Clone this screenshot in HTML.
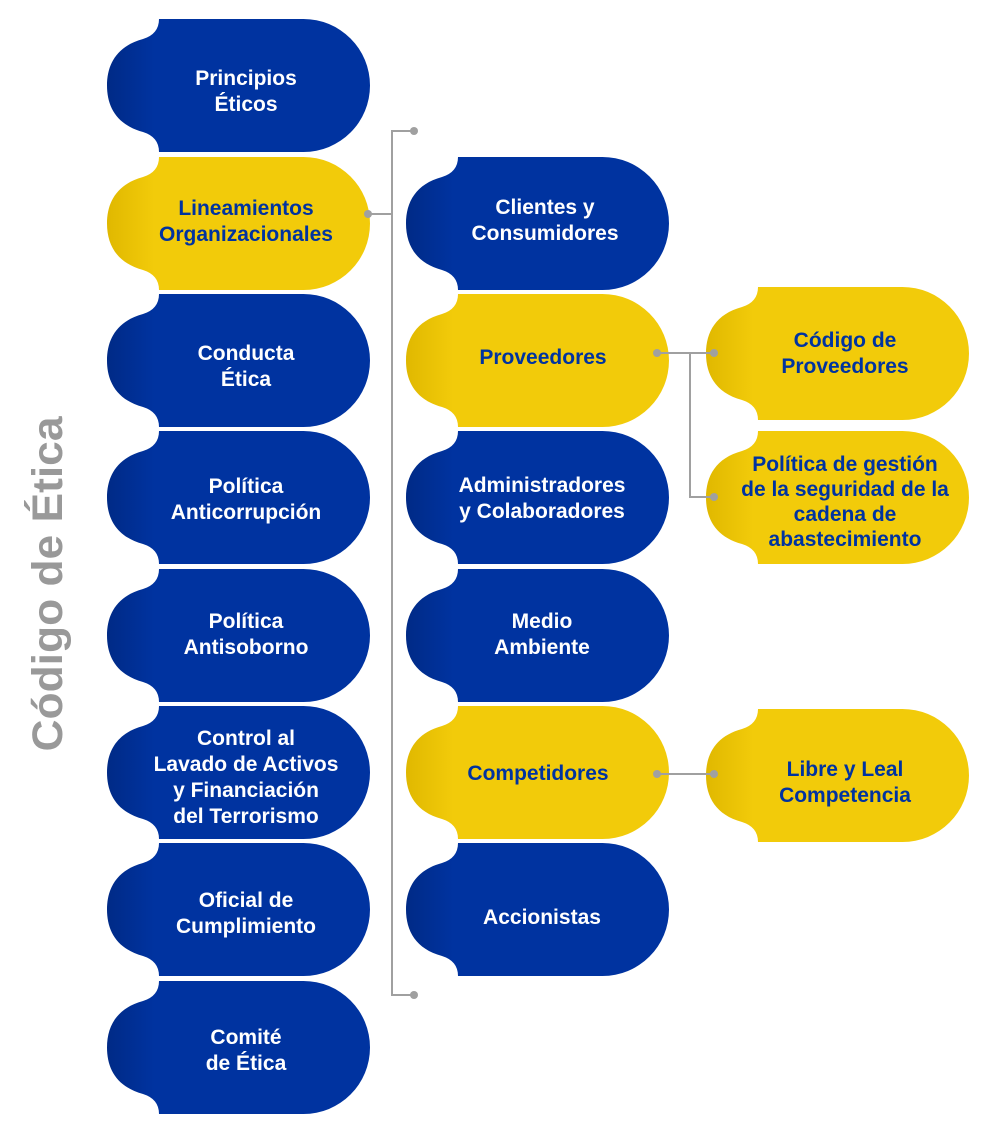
<!DOCTYPE html>
<html><head><meta charset="utf-8"><style>html,body{margin:0;padding:0;background:#fff}svg{display:block}</style></head>
<body>
<svg width="1000" height="1126" viewBox="0 0 1000 1126" xmlns="http://www.w3.org/2000/svg">
<defs>
<linearGradient id="gb" x1="0" x2="1" y1="0" y2="0"><stop offset="0" stop-color="#002a86"/><stop offset="0.18" stop-color="#0033a0"/><stop offset="1" stop-color="#0033a0"/></linearGradient>
<linearGradient id="gy" x1="0" x2="1" y1="0" y2="0"><stop offset="0" stop-color="#e0b800"/><stop offset="0.18" stop-color="#f2cb0a"/><stop offset="1" stop-color="#f2cb0a"/></linearGradient>
<path id="s" d="M52,0 H196.5 A66.5,66.5 0 0 1 196.5,133 H52 Q52,118 36,113 C10,106 0,88 0,66.5 C0,45 10,27 36,20 Q52,15 52,0 Z"/>
</defs>
<g>
<use href="#s" x="107" y="19" fill="url(#gb)"/>
<use href="#s" x="107" y="157" fill="url(#gy)"/>
<use href="#s" x="107" y="294" fill="url(#gb)"/>
<use href="#s" x="107" y="431" fill="url(#gb)"/>
<use href="#s" x="107" y="569" fill="url(#gb)"/>
<use href="#s" x="107" y="706" fill="url(#gb)"/>
<use href="#s" x="107" y="843" fill="url(#gb)"/>
<use href="#s" x="107" y="981" fill="url(#gb)"/>
<use href="#s" x="406" y="157" fill="url(#gb)"/>
<use href="#s" x="406" y="294" fill="url(#gy)"/>
<use href="#s" x="406" y="431" fill="url(#gb)"/>
<use href="#s" x="406" y="569" fill="url(#gb)"/>
<use href="#s" x="406" y="706" fill="url(#gy)"/>
<use href="#s" x="406" y="843" fill="url(#gb)"/>
<use href="#s" x="706" y="287" fill="url(#gy)"/>
<use href="#s" x="706" y="431" fill="url(#gy)"/>
<use href="#s" x="706" y="709" fill="url(#gy)"/>
</g>
<g stroke="#a0a0a0" stroke-width="2" fill="none">
<path d="M414,131 H392 V995 H414"/>
<path d="M368,214 H392"/>
<path d="M657,353 H714 M690,353 V497 H714"/>
<path d="M657,774 H714"/>
</g>
<g fill="#a0a0a0">
<circle cx="414" cy="131" r="4"/><circle cx="414" cy="995" r="4"/><circle cx="368" cy="214" r="4"/>
<circle cx="657" cy="353" r="4"/><circle cx="714" cy="353" r="4"/><circle cx="714" cy="497" r="4"/>
<circle cx="657" cy="774" r="4"/><circle cx="714" cy="774" r="4"/>
</g>
<text transform="translate(62,584) rotate(-90)" text-anchor="middle" font-family="Liberation Sans, sans-serif" font-weight="bold" font-size="43" fill="#999" textLength="335" lengthAdjust="spacingAndGlyphs">Código de Ética</text>
<g font-family="Liberation Sans, sans-serif" font-weight="bold" font-size="21" text-anchor="middle" fill="#fff">
<text x="246" y="85">Principios</text><text x="246" y="111">Éticos</text>
<text x="246" y="360">Conducta</text><text x="246" y="386">Ética</text>
<text x="246" y="493">Política</text><text x="246" y="519">Anticorrupción</text>
<text x="246" y="628">Política</text><text x="246" y="654">Antisoborno</text>
<text x="246" y="745">Control al</text><text x="246" y="771">Lavado de Activos</text><text x="246" y="797">y Financiación</text><text x="246" y="823">del Terrorismo</text>
<text x="246" y="907">Oficial de</text><text x="246" y="933">Cumplimiento</text>
<text x="246" y="1044">Comité</text><text x="246" y="1070">de Ética</text>
<text x="545" y="214">Clientes y</text><text x="545" y="240">Consumidores</text>
<text x="542" y="492">Administradores</text><text x="542" y="518">y Colaboradores</text>
<text x="542" y="628">Medio</text><text x="542" y="654">Ambiente</text>
<text x="542" y="924">Accionistas</text>
</g>
<g font-family="Liberation Sans, sans-serif" font-weight="bold" font-size="21" text-anchor="middle" fill="#0033a0">
<text x="246" y="215">Lineamientos</text><text x="246" y="241">Organizacionales</text>
<text x="543" y="364">Proveedores</text>
<text x="538" y="780">Competidores</text>
<text x="845" y="347">Código de</text><text x="845" y="373">Proveedores</text>
<text x="845" y="471">Política de gestión</text><text x="845" y="496">de la seguridad de la</text><text x="845" y="521">cadena de</text><text x="845" y="546">abastecimiento</text>
<text x="845" y="776">Libre y Leal</text><text x="845" y="802">Competencia</text>
</g>
</svg>
</body></html>
